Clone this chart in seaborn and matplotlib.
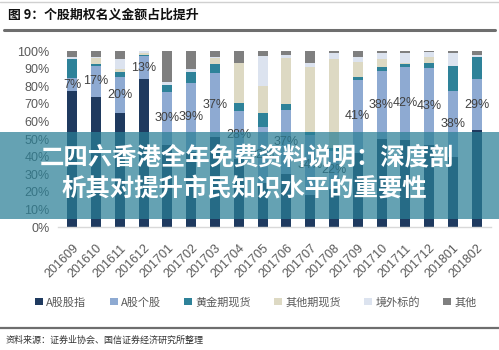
import matplotlib
matplotlib.use("Agg")
import matplotlib.pyplot as plt
import seaborn as sns
import pandas as pd
import numpy as np
from matplotlib.patches import Patch, Rectangle
from matplotlib.lines import Line2D

sns.set_theme(style="white")
plt.rcParams['font.family'] = ['Liberation Sans', 'Noto Sans CJK SC', 'DejaVu Sans']

months = ["201609", "201610", "201611", "201612", "201701", "201702", "201703",
          "201704", "201705", "201706", "201707", "201708", "201709", "201710",
          "201711", "201712", "201801", "201802"]

a_index = [77.4, 74.1, 64.6, 83.9, 46.5, 42.6, 50.9, 38.5, 25.0, 29.9, 18.3, 21.4,
           42.1, 50.2, 49.5, 46.8, 39.9, 55.0]
a_stock = [7.0, 17.4, 20.4, 13.4, 30.4, 39.4, 36.8, 27.6, 32.0, 36.6, 34.0, 22.0,
           41.4, 38.4, 41.6, 43.4, 37.6, 28.9]
gold = [11.1, 1.0, 3.2, 0.5, 3.8, 5.9, 4.9, 4.2, 7.9, 3.4, 1.8, 1.5,
        1.9, 2.1, 1.5, 2.8, 14.0, 12.7]
other_fut = [0.0, 3.5, 1.5, 1.2, 0.0, 0.0, 3.4, 22.7, 15.2, 25.9, 36.9, 50.4,
             8.5, 4.6, 0.8, 3.4, 0.0, 0.0]
overseas = [1.3, 0.5, 5.5, 1.0, 1.5, 1.9, 0.4, 0.0, 17.1, 1.9, 2.0, 3.4,
            2.9, 3.4, 5.3, 2.8, 7.2, 1.1]
others = [3.2, 3.5, 4.8, 0.0, 17.8, 10.2, 3.6, 7.0, 2.8, 2.3, 7.0, 1.3,
          3.2, 1.3, 1.3, 0.8, 1.3, 2.3]

series_names = ["A股股指", "A股个股", "黄金期现货", "其他期现货", "境外标的", "其他"]
series_vals = [a_index, a_stock, gold, other_fut, overseas, others]
colors = ["#1f3a5f", "#8eaad2", "#2e8299", "#ddd9c3", "#dce3ef", "#7f7f7f"]

title = "图 9：个股期权名义金额占比提升"
source = "资料来源：证券业协会、国信证券经济研究所整理"
banner1 = "二四六香港全年免费资料说明：深度剖"
banner2 = "析其对提升市民知识水平的重要性"

W, H = 499, 350
fig = plt.figure(figsize=(W / 100, H / 100), dpi=100)
fig.patch.set_facecolor("white")

def px(x, y):
    return x / W, 1 - y / H

ax = fig.add_axes([58 / W, 1 - 227 / H, (491 - 58) / W, (227 - 51) / H])

vals = np.array(series_vals) / 100.0
cum = np.cumsum(vals, axis=0)
df = pd.DataFrame({"month": months})
# draw from top of stack downward so lower segments overlay
for i in range(len(series_names) - 1, -1, -1):
    d = df.copy()
    d["v"] = cum[i]
    sns.barplot(data=d, x="month", y="v", color=colors[i], width=0.42,
                saturation=1, ax=ax, edgecolor="none", linewidth=0)

# labels for A股个股
for j in range(len(months)):
    yc = (a_index[j] + a_stock[j] / 2) / 100
    ax.text(j, yc, f"{round(a_stock[j])}%", ha="center", va="center",
            fontsize=9, color="#404040", zorder=5)

ax.set_xlim(-0.6, len(months) - 0.4)
ax.set_ylim(0, 1)
ax.set_yticks(np.arange(0, 1.01, 0.1))
ax.set_yticklabels([f"{int(round(t * 100))}%" for t in np.arange(0, 1.01, 0.1)])
ax.set_xlabel("")
ax.set_ylabel("")
for s in ["top", "right", "left"]:
    ax.spines[s].set_visible(False)
ax.spines["bottom"].set_color("#d9d9d9")
ax.spines["bottom"].set_linewidth(1)
ax.tick_params(axis="y", length=0, pad=6, labelsize=9, labelcolor="#595959")
ax.tick_params(axis="x", length=0, pad=11, labelsize=9, labelcolor="#595959")
for lab in ax.get_xticklabels():
    lab.set_rotation(45)
    lab.set_ha("right")
    lab.set_rotation_mode("anchor")
ax.set_facecolor("white")

# title and rules
fig.text(*px(8, 15), title, fontsize=9.3, fontweight="bold", color="#111111",
         ha="left", va="center", family=["Noto Sans CJK SC", "DejaVu Sans"])
fig.add_artist(Line2D([px(0, 0)[0], px(499, 0)[0]], [px(0, 2)[1]] * 2,
                      color="#d0d0d0", lw=1))
fig.add_artist(Line2D([px(4, 0)[0], px(495, 0)[0]], [px(0, 30)[1]] * 2,
                      color="#6e6e6e", lw=2.2))
fig.add_artist(Line2D([0, 1], [px(0, 328)[1]] * 2, color="#6e6e6e", lw=1.6))
fig.text(*px(6, 340), source, fontsize=6.5, color="#333333", ha="left",
         va="center", family=["Noto Sans CJK SC", "DejaVu Sans"])

# legend
handles = [Patch(facecolor=c, edgecolor="none") for c in colors]
leg = fig.legend(handles, series_names, loc="center",
                 bbox_to_anchor=(px(256, 0)[0], px(0, 302)[1]), ncol=6,
                 frameon=False, handlelength=0.7, handleheight=0.7,
                 handletextpad=0.3, columnspacing=2.1, labelcolor="#595959",
                 prop={"family": ["Noto Sans CJK SC", "DejaVu Sans"], "size": 8})

# overlay banner
fig.add_artist(Rectangle(px(0, 219), 1, 87 / H, transform=fig.transFigure,
                         facecolor="#2a7f96", alpha=0.72, edgecolor="none", zorder=10))
fig.text(*px(40, 157), banner1, fontsize=17.6, fontweight="bold", color="white",
         ha="left", va="center", zorder=11, family=["Noto Sans CJK SC", "DejaVu Sans"])
fig.text(*px(62, 189), banner2, fontsize=17.6, fontweight="bold", color="white",
         ha="left", va="center", zorder=11, family=["Noto Sans CJK SC", "DejaVu Sans"])

fig.savefig("out.png", dpi=100, facecolor="white")
